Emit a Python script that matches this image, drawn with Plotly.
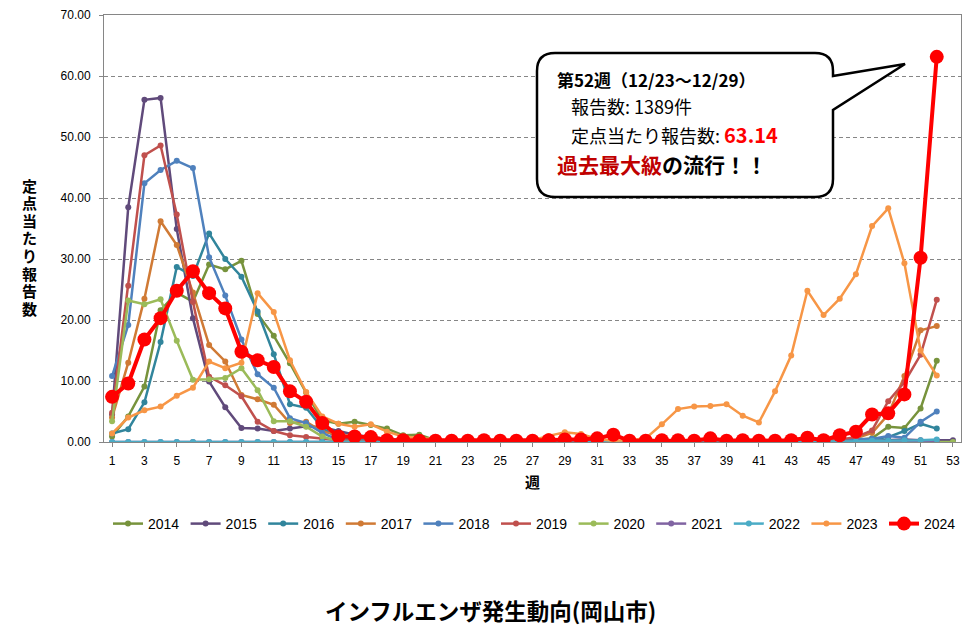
import plotly.graph_objects as go

weeks = list(range(1, 54))
week_ticks = list(range(1, 54, 2))

y2014 = [0.9, 4.2, 9.1, 21.6, 24.5, 23.0, 29.1, 28.3, 29.7, 21.0, 17.4, 12.9, 8.1, 3.6, 3.0, 3.3, 2.8, 2.2, 1.1, 1.2,
         0.3, 0.2, 0.1, 0.1, 0.1, 0.0, 0.0, 0.0, 0.1, 0.0, 0.0, 0.1, 0.0, 0.0, 0.0, 0.1, 0.0, 0.1, 0.0, 0.1,
         0.1, 0.1, 0.1, 0.2, 0.1, 0.2, 0.3, 0.6, 2.5, 2.3, 5.5, 13.3]
y2015 = [4.5, 38.5, 56.1, 56.4, 34.9, 20.3, 9.9, 5.7, 2.3, 2.2, 1.8, 2.2, 2.6, 2.4, 1.8, 1.2, 0.8, 0.5, 0.3, 0.2,
         0.1, 0.1, 0.1, 0.0, 0.0, 0.0, 0.0, 0.0, 0.0, 0.0, 0.0, 0.0, 0.0, 0.0, 0.0, 0.0, 0.0, 0.0, 0.0, 0.0,
         0.0, 0.0, 0.0, 0.0, 0.1, 0.1, 0.1, 0.2, 0.3, 0.4, 0.3, 0.3, 0.3]
y2016 = [1.4, 2.1, 6.5, 16.4, 28.7, 27.2, 34.2, 30.0, 27.1, 21.4, 14.4, 6.2, 5.6, 2.3, 0.6, 0.4, 0.3, 0.2, 0.1, 0.1,
         0.0, 0.0, 0.0, 0.0, 0.0, 0.0, 0.0, 0.0, 0.0, 0.0, 0.0, 0.0, 0.0, 0.0, 0.0, 0.0, 0.0, 0.0, 0.0, 0.0,
         0.0, 0.0, 0.0, 0.1, 0.2, 0.2, 0.3, 0.5, 0.8, 1.8, 3.0, 2.2]
y2017 = [4.0, 13.0, 23.5, 36.2, 32.3, 24.5, 15.9, 13.2, 7.7, 7.0, 6.1, 3.1, 3.3, 1.7, 1.2, 0.9, 0.6, 0.4, 0.2, 0.1,
         0.1, 0.0, 0.0, 0.0, 0.0, 0.0, 0.0, 0.0, 0.0, 0.0, 0.0, 0.0, 0.0, 0.0, 0.0, 0.0, 0.0, 0.0, 0.0, 0.0,
         0.0, 0.0, 0.1, 0.1, 0.2, 0.3, 0.6, 1.5, 4.5, 10.8, 18.3, 19.0]
y2018 = [10.8, 19.2, 42.4, 44.6, 46.1, 44.9, 30.3, 24.0, 16.8, 11.1, 8.9, 3.9, 3.1, 1.5, 0.3, 0.2, 0.1, 0.1, 0.0, 0.0,
         0.0, 0.0, 0.0, 0.0, 0.0, 0.0, 0.0, 0.0, 0.0, 0.0, 0.0, 0.0, 0.0, 0.0, 0.0, 0.0, 0.0, 0.0, 0.0, 0.0,
         0.1, 0.1, 0.2, 0.3, 0.3, 0.4, 0.5, 0.5, 1.0, 0.7, 3.3, 5.0]
y2019 = [4.8, 25.6, 47.0, 48.6, 37.3, 23.0, 10.7, 9.3, 7.5, 3.3, 1.8, 1.1, 0.8, 0.5, 0.3, 0.2, 0.1, 0.1, 0.0, 0.0,
         0.0, 0.0, 0.0, 0.0, 0.0, 0.0, 0.0, 0.0, 0.0, 0.0, 0.0, 0.0, 0.0, 0.0, 0.0, 0.0, 0.0, 0.0, 0.0, 0.1,
         0.1, 0.1, 0.1, 0.2, 0.3, 0.4, 0.8, 1.9, 6.7, 9.8, 14.3, 23.3]
y2020 = [3.4, 23.2, 22.6, 23.4, 16.6, 10.2, 10.3, 10.5, 12.1, 8.5, 3.4, 3.4, 2.5, 0.9, 0.1, 0.0, 0.0, 0.0, 0.0, 0.0,
         0.0, 0.0, 0.0, 0.0, 0.0, 0.0, 0.0, 0.0, 0.0, 0.0, 0.0, 0.0, 0.0, 0.0, 0.0, 0.0, 0.0, 0.0, 0.0, 0.0,
         0.0, 0.0, 0.0, 0.0, 0.0, 0.0, 0.0, 0.0, 0.0, 0.0, 0.0, 0.0, 0.0]
y2021 = [0.0, 0.0, 0.0, 0.0, 0.0, 0.0, 0.0, 0.0, 0.0, 0.0, 0.0, 0.0, 0.0, 0.0, 0.0, 0.0, 0.0, 0.0, 0.0, 0.0,
         0.0, 0.0, 0.0, 0.0, 0.0, 0.0, 0.0, 0.0, 0.0, 0.0, 0.0, 0.0, 0.0, 0.0, 0.0, 0.0, 0.0, 0.0, 0.0, 0.0,
         0.0, 0.0, 0.0, 0.0, 0.0, 0.0, 0.0, 0.0, 0.0, 0.0, 0.0, 0.0]
y2022 = [0.0, 0.0, 0.0, 0.0, 0.0, 0.0, 0.0, 0.0, 0.0, 0.0, 0.0, 0.0, 0.0, 0.0, 0.0, 0.0, 0.0, 0.0, 0.0, 0.0,
         0.0, 0.0, 0.0, 0.0, 0.0, 0.0, 0.0, 0.0, 0.0, 0.0, 0.0, 0.0, 0.0, 0.0, 0.0, 0.0, 0.0, 0.0, 0.0, 0.0,
         0.0, 0.0, 0.0, 0.0, 0.0, 0.0, 0.1, 0.2, 0.2, 0.3, 0.3, 0.4]
y2023 = [1.4, 4.0, 5.2, 5.8, 7.6, 8.9, 13.2, 12.1, 13.0, 24.4, 21.3, 13.4, 8.2, 4.2, 3.0, 2.5, 2.9, 1.7, 0.9, 0.7,
         0.4, 0.2, 0.2, 0.2, 0.2, 0.2, 0.3, 1.0, 1.6, 1.3, 0.5, 0.2, 0.3, 0.6, 2.9, 5.4, 5.8, 5.9, 6.2, 4.3,
         3.2, 8.3, 14.2, 24.8, 20.8, 23.5, 27.5, 35.4, 38.3, 29.3, 15.0, 10.9]
y2024 = [7.4, 9.6, 16.8, 20.3, 24.8, 28.0, 24.4, 21.9, 14.8, 13.4, 12.3, 8.3, 6.6, 3.1, 0.9, 0.9, 0.8, 0.3, 0.3, 0.2,
         0.2, 0.2, 0.2, 0.3, 0.2, 0.2, 0.2, 0.3, 0.4, 0.4, 0.6, 1.2, 0.2, 0.2, 0.3, 0.3, 0.2, 0.6, 0.2, 0.3,
         0.2, 0.2, 0.3, 0.7, 0.3, 1.1, 1.7, 4.5, 4.7, 7.8, 30.2, 63.14]

series_names = ["2014", "2015", "2016", "2017", "2018", "2019", "2020", "2021", "2022", "2023", "2024"]
series_values = [y2014, y2015, y2016, y2017, y2018, y2019, y2020, y2021, y2022, y2023, y2024]
series_colors = ["#77933c", "#604a7b", "#31859c", "#d07a35", "#4f81bd", "#c0504d",
                 "#9bbb59", "#8064a2", "#4bacc6", "#f79646", "#ff0000"]
y_title_chars = ["定", "点", "当", "た", "り", "報", "告", "数"]

JP = "Noto Sans CJK JP"
W, H = 975, 637
OFF = 8  # page body margin in the browser
PX0, PY0, PW, PH = 104, 15, 857, 427  # plot area as seen in the screenshot
L, T = PX0 - OFF, PY0 - OFF
R, B = W - L - PW, H - T - PH


def px(x):
    return (x - PX0) / PW


def py(y):
    return (PY0 + PH - y) / PH


fig = go.Figure()
for name, vals, color in zip(series_names, series_values, series_colors):
    big = name == "2024"
    fig.add_trace(go.Scatter(
        x=weeks[:len(vals)], y=vals, name=name, mode="lines+markers",
        line=dict(color=color, width=4 if big else 2.5),
        marker=dict(color=color, size=14 if big else 6),
    ))

fig.update_layout(
    width=W, height=H,
    margin=dict(l=L, r=R, t=T, b=B, autoexpand=False),
    plot_bgcolor="white", paper_bgcolor="white",
    font=dict(family="Liberation Sans, Arial, sans-serif", color="#000000"),
    legend=dict(orientation="h", x=px(108), y=py(524), xanchor="left", yanchor="middle",
                font=dict(family="Liberation Sans Narrow, Arial Narrow, Liberation Sans", size=14),
                entrywidth=32.6, itemwidth=30, bgcolor="rgba(0,0,0,0)"),
    xaxis=dict(range=[0.5, 53.5], tickvals=week_ticks, showgrid=False, zeroline=False,
               showline=True, linecolor="#868686", linewidth=1, mirror=True,
               ticks="outside", ticklen=4, tickcolor="#868686",
               tickfont=dict(size=12), ticklabelstandoff=4),
    yaxis=dict(range=[0, 70], dtick=10, tickformat=".2f", showgrid=True, gridcolor="#868686",
               griddash="4px,3px", gridwidth=1, zeroline=False,
               showline=True, linecolor="#868686", linewidth=1, mirror=True,
               ticks="outside", ticklen=4, tickcolor="#868686",
               tickfont=dict(size=12), ticklabelstandoff=6),
)

# callout bubble
x0, x1, y0, y1, r = 537, 833, 53, 197, 18
pts = [
    ("M", (x0 + r, y0)), ("L", (x1 - r, y0)), ("Q", (x1, y0), (x1, y0 + r)),
    ("L", (x1, 76)), ("L", (905, 64)), ("L", (x1, 110)),
    ("L", (x1, y1 - r)), ("Q", (x1, y1), (x1 - r, y1)),
    ("L", (x0 + r, y1)), ("Q", (x0, y1), (x0, y1 - r)),
    ("L", (x0, y0 + r)), ("Q", (x0, y0), (x0 + r, y0)),
]
path = ""
for item in pts:
    cmd = item[0]
    coords = " ".join(f"{px(p[0]):.5f},{py(p[1]):.5f}" for p in item[1:])
    path += f"{cmd}{coords} "
path += "Z"
fig.add_shape(type="path", path=path, xref="paper", yref="paper",
              line=dict(color="#000000", width=2.5), fillcolor="#ffffff", layer="above")

ann = []
ann.append(dict(x=px(555), y=py(79), text="<b>第52週（12/23～12/29）</b>", font=dict(family=JP, size=17)))
ann.append(dict(x=px(569), y=py(106), text="報告数: 1389件", font=dict(family=JP, size=18)))
ann.append(dict(x=px(569), y=py(135),
                text="定点当たり報告数: <span style='color:#ff0000;font-size:20px'><b>63.14</b></span>",
                font=dict(family=JP, size=18)))
ann.append(dict(x=px(555), y=py(164),
                text="<b><span style='color:#c00000'>過去最大級</span>の流行！！</b>",
                font=dict(family=JP, size=21)))
for a in ann:
    fig.add_annotation(xref="paper", yref="paper", xanchor="left", yanchor="middle",
                       showarrow=False, align="left", **a)

# y-axis title, stacked vertically one character per annotation
for i, ch in enumerate(y_title_chars):
    fig.add_annotation(xref="paper", yref="paper", x=px(29), y=py(185 + i * 17.6),
                       xanchor="center", yanchor="middle", showarrow=False,
                       text=f"<b>{ch}</b>", font=dict(family=JP, size=15))

fig.add_annotation(xref="paper", yref="paper", x=px(532), y=py(481), xanchor="center", yanchor="middle",
                   showarrow=False, text="<b>週</b>", font=dict(family=JP, size=15))
fig.add_annotation(xref="paper", yref="paper", x=px(490), y=py(610), xanchor="center", yanchor="middle",
                   showarrow=False, text="<b>インフルエンザ発生動向(岡山市)</b>", font=dict(family=JP, size=22.5))

fig.write_html("out.html")
